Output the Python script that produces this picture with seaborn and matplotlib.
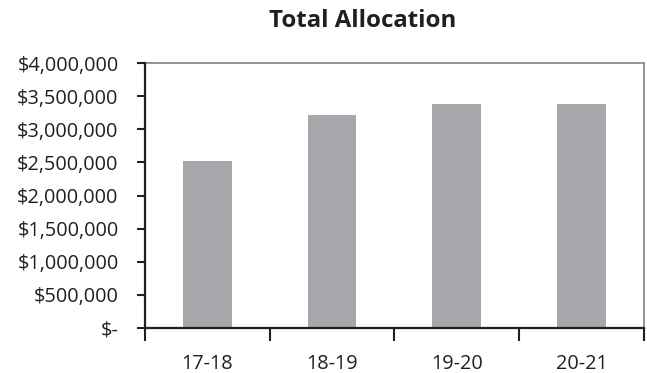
import matplotlib
matplotlib.use("Agg")
import matplotlib.pyplot as plt
import seaborn as sns
import pandas as pd
from matplotlib.ticker import FuncFormatter, FixedLocator

# School-year allocation totals
years = ["17-18", "18-19", "19-20", "20-21"]
allocation = [2520000, 3220000, 3390000, 3390000]
y_ticks = [0, 500000, 1000000, 1500000, 2000000, 2500000, 3000000, 3500000, 4000000]

sns.set_theme(style="white")
plt.rcParams["font.family"] = ["Open Sans", "DejaVu Sans"]

df = pd.DataFrame({"year": years, "allocation": allocation})

fig = plt.figure(figsize=(6.47, 3.73), dpi=100)
ax = fig.add_axes([0.224, 0.1214, 0.771, 0.7089])

sns.barplot(data=df, x="year", y="allocation", color="#A7A8AB",
            saturation=1, width=0.39, ax=ax, edgecolor="none")

ax.set_xlim(-0.5, len(years) - 0.5)
ax.set_ylim(0, 4000000)
ax.yaxis.set_major_locator(FixedLocator(y_ticks))


def money(v, _pos):
    if v == 0:
        return "$-"
    return "${:,.0f}".format(v)


ax.yaxis.set_major_formatter(FuncFormatter(money))

# category ticks sit on the boundaries between bars
ax.set_xticks([i - 0.5 for i in range(len(years) + 1)], minor=False)
ax.set_xticklabels([])
ax.set_xticks(range(len(years)), minor=True)
ax.set_xticklabels(years, minor=True)
ax.tick_params(axis="x", which="major", direction="out", length=9, width=1.5,
               color="#231F20", bottom=True)
ax.tick_params(axis="x", which="minor", length=0, pad=19, labelsize=14.3,
               labelcolor="#231F20")
ax.tick_params(axis="y", direction="out", length=6, width=1.5, color="#231F20",
               left=True, pad=13, labelsize=14.3, labelcolor="#231F20")

ax.set_xlabel("")
ax.set_ylabel("")

for side in ("left", "bottom"):
    ax.spines[side].set_color("#231F20")
    ax.spines[side].set_linewidth(1.6)
for side in ("top", "right"):
    ax.spines[side].set_color("#8C8C8C")
    ax.spines[side].set_linewidth(1.3)
ax.spines["left"].set_zorder(5)
ax.spines["bottom"].set_zorder(5)

fig.text(363 / 647, 1 - 21 / 373, "Total Allocation", ha="center", va="center",
         fontsize=17.3, fontweight="bold", color="#231F20")

fig.savefig("out.png", dpi=100, facecolor="white")
